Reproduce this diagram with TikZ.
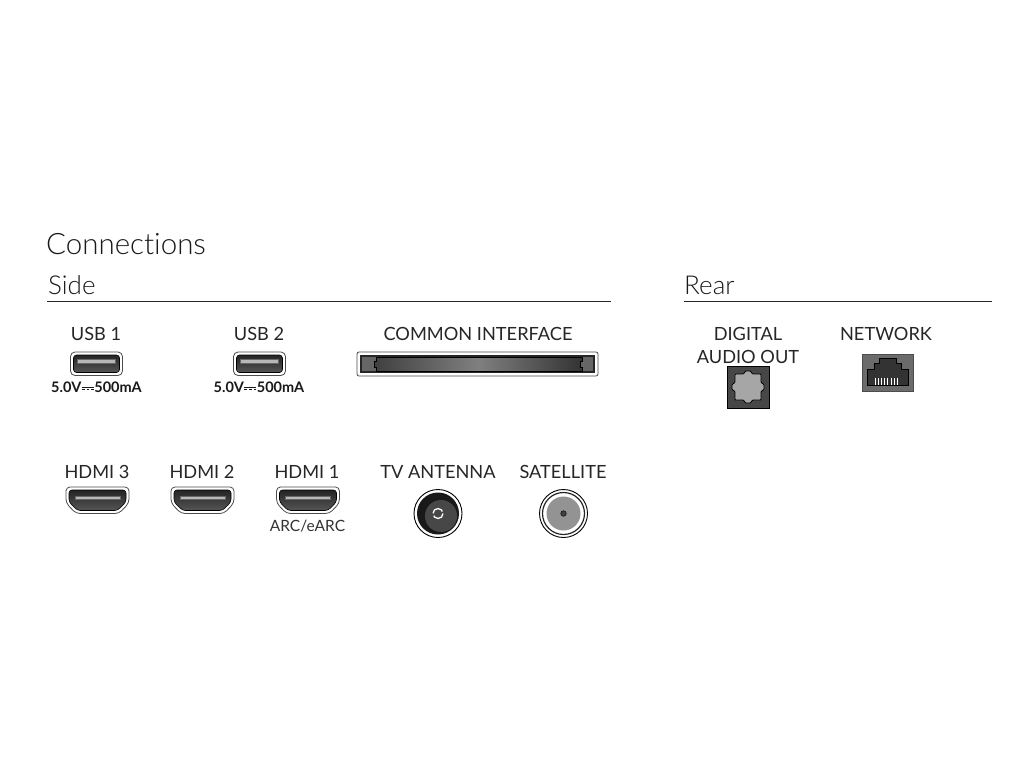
\documentclass[tikz,border=0pt]{standalone}
\usepackage{fontspec}
\setmainfont{Lato}
\newfontfamily\lightfont[Ligatures=NoCommon]{Lato Light}
\definecolor{portdark}{gray}{0.2}
\definecolor{portmid}{gray}{0.42}
\definecolor{portlight}{gray}{0.72}
\tikzset{
  portlabel/.style={font=\fontsize{18.2}{22}\selectfont,text=black!85,align=center,inner sep=0pt,anchor=base},
  headlabel/.style={font=\lightfont\fontsize{26}{30}\selectfont,text=black!90,inner sep=0pt,anchor=base west},
  smalllabel/.style={font=\fontsize{15.5}{20}\selectfont,text=black!80,inner sep=0pt,anchor=base},
  ratelabel/.style={font=\fontsize{14.5}{17}\selectfont\bfseries,text=black!90,inner sep=0pt,anchor=base},
  rim/.style={draw=black!70,line width=0.8pt,fill=white},
  well/.style={draw=black,line width=0.6pt,top color=portdark!70!black,bottom color=portmid!80!black},
  tongue/.style={fill=portlight,draw=black!60,line width=0.3pt},
}
% usb port, #1 is the left edge
\newcommand{\usbport}[1]{
\begin{scope}[xshift=#1]
\draw[rim,rounded corners=4.5] (0,352)rectangle(52,375.5);
\draw[well,rounded corners=3] (3,355)rectangle(49,372.5);
\draw[tongue] (7,359)rectangle(45,363);
\end{scope}
}
% hdmi port, #1 is the left edge
\newcommand{\hdmiport}[1]{
\begin{scope}[xshift=#1]
\draw[rim,rounded corners=4] (0,487)--(63,487)--(63,503)--(53,513.5)--(10,513.5)--(0,503)--cycle;
\draw[well,rounded corners=3] (3,490)--(60,490)--(60,502)--(51.5,510.5)--(11.5,510.5)--(3,502)--cycle;
\draw[tongue] (9,496)rectangle(54,499.5);
\end{scope}
}
% dc mark between volts and amps
\newcommand{\dcmark}{\tikz[baseline=0pt,x=1pt,y=1pt]{\draw[line width=0.8pt] (0,5)--(12,5);\draw[line width=0.8pt,dash pattern=on 2.8pt off 1.8pt] (0,3)--(12,3);}}
\begin{document}
\begin{tikzpicture}[x=1pt,y=-1pt]
\useasboundingbox (0,0) rectangle (1024,768);
\fill[white] (0,0) rectangle (1024,768);
% headings
\node[headlabel,font=\lightfont\fontsize{29.5}{36}\selectfont] (title) at (46,254) {Connections};
\node[headlabel] (side) at (48,294) {Side};
\node[headlabel] (rear) at (684,294) {Rear};
\draw[black!85,line width=0.9pt] (47,301.5)--(611,301.5);
\draw[black!85,line width=0.9pt] (684,301.5)--(992,301.5);
% usb
\node[portlabel] (usba) at (96,340) {USB 1};
\node[portlabel] (usbb) at (259,340) {USB 2};
\usbport{70.5}
\usbport{233.5}
\node[ratelabel] (ratea) at (96.5,392) {5.0V\dcmark500mA};
\node[ratelabel] (rateb) at (259,392) {5.0V\dcmark500mA};
% common interface
\node[portlabel] (ci) at (478,340) {COMMON INTERFACE};
\draw[rim,rounded corners=2] (357,352)rectangle(598,376);
\fill[black!85] (360,355)rectangle(595,373);
\fill[black!60] (362,357)rectangle(593,371);
\shade[left color=black!75,right color=black!80,middle color=black!50,draw=black,line width=0.5pt] (376,357)--(582,357)--(582,361)--(580,361)--(580,367)--(582,367)--(582,371)--(376,371)--(376,367)--(374,367)--(374,361)--(376,361)--cycle;
% digital audio
\node[portlabel] (dig) at (748,340) {DIGITAL};
\node[portlabel] (audio) at (748,363) {AUDIO OUT};
\fill[black!72] (727,366)rectangle(769,408);
\draw[black,line width=0.6pt] (727,366)rectangle(769,408);
\draw[fill=black!35,draw=black,line width=0.8pt,rounded corners=0.8] (735,374)--(743.5,374)--(745.5,371)--(750.5,371)--(752.5,374)--(761,374)--(761,382.5)--(764,384.5)--(764,389.5)--(761,391.5)--(761,400)--(752.5,400)--(750.5,403)--(745.5,403)--(743.5,400)--(735,400)--(735,391.5)--(732,389.5)--(732,384.5)--(735,382.5)--cycle;
% network
\node[portlabel] (net) at (886,340) {NETWORK};
\draw[fill=portmid,draw=black!70,line width=0.8pt] (862,354)rectangle(913,391);
\draw[fill=portdark,draw=black,line width=0.5pt] (867,385)--(867,369)--(874,369)--(874,363)--(879,363)--(879,358)--(896,358)--(896,363)--(901,363)--(901,369)--(908,369)--(908,385)--cycle;
\foreach \i in {0,...,7}
  \draw[white,line width=0.8pt] (875+\i*3.2,378)--(875+\i*3.2,385);
% hdmi
\node[portlabel] (hdmic) at (97,478) {HDMI 3};
\node[portlabel] (hdmib) at (202,478) {HDMI 2};
\node[portlabel] (hdmia) at (307,478) {HDMI 1};
\hdmiport{66}
\hdmiport{171}
\hdmiport{276.5}
\node[smalllabel] (arc) at (307.5,531) {ARC/eARC};
% antenna
\node[portlabel] (tv) at (438,478) {TV ANTENNA};
\draw[fill=white,draw=black,line width=0.9pt] (438,513.5) circle (24);
\draw[fill=black!90,draw=none] (438,513.5) circle (21);
\fill[black!72] (441,516) circle (16);
\draw[white,line width=1.3pt,dash pattern=on 13pt off 2.5pt] (438,513.5) circle (5);
% satellite
\node[portlabel] (sat) at (563,478) {SATELLITE};
\draw[fill=white,draw=black,line width=0.9pt] (563.5,513.5) circle (24);
\draw[fill=white,draw=black!85,line width=1.2pt] (563.5,513.5) circle (21);
\fill[portlight!80!black] (563.5,513.5) circle (17);
\draw[fill=black!75,draw=black] (563.5,513.5) circle (2.8);
\end{tikzpicture}
\end{document}
